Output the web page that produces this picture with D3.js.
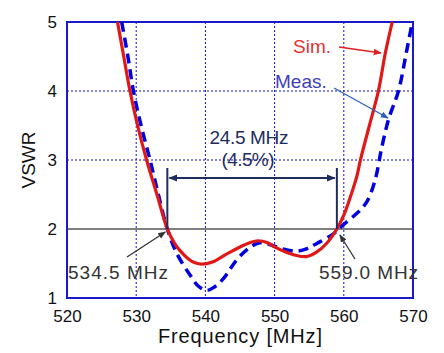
<!DOCTYPE html>
<html><head><meta charset="utf-8">
<script src="https://cdn.jsdelivr.net/npm/d3@7"></script>
<style>body{margin:0;background:#fff}svg{display:block}</style>
</head><body>
<svg id="c" width="444" height="353"></svg>
<script>
const xTicks = [520, 530, 540, 550, 560, 570];
const yTicks = [1, 2, 3, 4, 5];
const simFreq = [527.3,528.2,529.1,530.2,531.5,533.0,534.5,535.5,536.3,537.5,538.5,539.5,541,543.1,545,546.4,547.6,549,550,551.5,553,554.6,556,557.5,559,560,560.8,561.9,562.4,563.7,565,566,567];
const simVswr = [5.0,4.5,4.0,3.5,3.0,2.5,2.0,1.8,1.69,1.57,1.51,1.49,1.52,1.64,1.74,1.80,1.83,1.80,1.74,1.67,1.62,1.60,1.66,1.79,2.0,2.2,2.42,2.77,3.0,3.5,4.0,4.55,5.0];
const measFreq = [527.9,528.8,529.6,530.7,532.0,533.2,534.5,535.9,537.8,539,540.2,541.3,542.6,544.5,546.4,547.8,549.2,550.8,553.2,554.8,556.1,558.5,559.9,561.8,563.3,564.5,565.5,566.5,567.9,569.1,569.9];
const measVswr = [5.0,4.5,4.0,3.5,3.0,2.5,2.0,1.64,1.33,1.17,1.11,1.16,1.28,1.55,1.73,1.80,1.78,1.72,1.68,1.72,1.79,1.93,2.06,2.22,2.39,2.7,3.19,3.6,4.0,4.59,5.0];
const bandEdges = [534.5, 559.0];
const bandLabels = ["534.5 MHz", "559.0 MHz"];
const bwText = ["24.5 MHz", "(4.5%)"];

const svg = d3.select("#c");
const L = 67, R = 413, T = 22, B = 298;
const x = d3.scaleLinear().domain([520, 570]).range([L, R]);
const y = d3.scaleLinear().domain([1, 5]).range([B, T]);
const font = "'Liberation Sans', Arial, sans-serif";

const defs = svg.append("defs");
defs.append("clipPath").attr("id","clip").append("rect").attr("x",L).attr("y",T-2).attr("width",R-L).attr("height",B-T+2);
function marker(id, color, size){
  defs.append("marker").attr("id",id).attr("viewBox","0 0 10 10").attr("refX",9).attr("refY",5)
    .attr("markerWidth",size).attr("markerHeight",size).attr("orient","auto-start-reverse")
    .attr("markerUnits","userSpaceOnUse")
    .append("path").attr("d","M0,1 L10,5 L0,9 Z").attr("fill",color);
}
marker("mNavy","#1f2d5c",9);
marker("mGray","#333",8);
marker("mRed","#e02020",8);
marker("mBlue","#3060c0",8);

// grid
const gridBlue = "#1010c8";
svg.append("g").selectAll("line").data(xTicks.slice(1,-1)).join("line")
  .attr("x1",d=>x(d)).attr("x2",d=>x(d)).attr("y1",T).attr("y2",B)
  .attr("stroke",gridBlue).attr("stroke-width",1).attr("stroke-dasharray","2,2");
svg.append("g").selectAll("line").data(yTicks.filter(d=>d>2 && d<5)).join("line")
  .attr("x1",L).attr("x2",R).attr("y1",d=>y(d)).attr("y2",d=>y(d))
  .attr("stroke",gridBlue).attr("stroke-width",1).attr("stroke-dasharray","2,2");
svg.append("line").attr("x1",L).attr("x2",R).attr("y1",y(2)).attr("y2",y(2))
  .attr("stroke","#555").attr("stroke-width",1.5);

// axes
const xa = svg.append("g").attr("transform",`translate(0,${B})`)
  .call(d3.axisBottom(x).tickValues(xTicks).tickFormat(d3.format("d")).tickSize(0).tickPadding(12));
xa.select(".domain").remove();
xa.selectAll("text").attr("font-family",font).attr("font-size",17).attr("fill","#111");
const ya = svg.append("g").attr("transform",`translate(${L},0)`)
  .call(d3.axisLeft(y).tickValues(yTicks).tickFormat(d3.format("d")).tickSize(0).tickPadding(10));
ya.select(".domain").remove();
ya.selectAll("text").attr("font-family",font).attr("font-size",17).attr("fill","#111");

// frame
svg.append("rect").attr("x",L).attr("y",T).attr("width",R-L).attr("height",B-T)
  .attr("fill","none").attr("stroke","#1a1ac8").attr("stroke-width",2);

// curves
const lineGen = d3.line().x(d=>x(d[0])).y(d=>y(d[1])).curve(d3.curveCatmullRom.alpha(0.5));
const g = svg.append("g").attr("clip-path","url(#clip)");
g.append("path").datum(d3.zip(measFreq, measVswr)).attr("d",lineGen)
  .attr("fill","none").attr("stroke","#0000e0").attr("stroke-width",3.5).attr("stroke-dasharray","10,6");
g.append("path").datum(d3.zip(simFreq, simVswr)).attr("d",lineGen)
  .attr("fill","none").attr("stroke","#e01818").attr("stroke-width",3.2);

// bandwidth annotation
const navy = "#1f2d5c";
svg.append("g").selectAll("line").data(bandEdges).join("line")
  .attr("x1",d=>x(d)).attr("x2",d=>x(d)).attr("y1",168).attr("y2",y(2))
  .attr("stroke",navy).attr("stroke-width",2);
svg.append("line").attr("x1",x(bandEdges[0])+2).attr("x2",x(bandEdges[1])-2).attr("y1",178).attr("y2",178)
  .attr("stroke",navy).attr("stroke-width",2)
  .attr("marker-start","url(#mNavy)").attr("marker-end","url(#mNavy)");
svg.append("text").attr("x",249).attr("y",144).attr("text-anchor","middle")
  .attr("font-family",font).attr("font-size",19).attr("textLength",79).attr("fill","#1f2d5c").text(bwText[0]);
svg.append("text").attr("x",248).attr("y",166).attr("text-anchor","middle")
  .attr("font-family",font).attr("font-size",19).attr("textLength",53).attr("fill","#1f2d5c").text(bwText[1]);

// band edge labels
svg.append("text").attr("x",68).attr("y",279).attr("font-family",font).attr("font-size",19)
  .attr("fill","#333").attr("textLength",100).text(bandLabels[0]);
svg.append("text").attr("x",319).attr("y",279).attr("font-family",font).attr("font-size",19)
  .attr("fill","#333").attr("textLength",99).text(bandLabels[1]);
svg.append("line").attr("x1",127).attr("y1",257).attr("x2",x(bandEdges[0])-2).attr("y2",y(2)+3)
  .attr("stroke","#333").attr("stroke-width",1.3).attr("marker-end","url(#mGray)");
svg.append("line").attr("x1",355).attr("y1",259).attr("x2",x(bandEdges[1])+3).attr("y2",y(2)+6)
  .attr("stroke","#333").attr("stroke-width",1.3).attr("marker-end","url(#mGray)");

// legend labels
svg.append("text").attr("x",293).attr("y",53).attr("font-family",font).attr("font-size",19)
  .attr("fill","#e83030").text("Sim.");
svg.append("line").attr("x1",339).attr("y1",47).attr("x2",381).attr("y2",53)
  .attr("stroke","#e02020").attr("stroke-width",1.3).attr("marker-end","url(#mRed)");
svg.append("text").attr("x",275).attr("y",88).attr("font-family",font).attr("font-size",19)
  .attr("fill","#4040b8").text("Meas.");
svg.append("line").attr("x1",334).attr("y1",88).attr("x2",388).attr("y2",118)
  .attr("stroke","#3060c0").attr("stroke-width",1.3).attr("marker-end","url(#mBlue)");

// axis titles
svg.append("text").attr("x",240).attr("y",343).attr("text-anchor","middle")
  .attr("font-family",font).attr("font-size",20).attr("fill","#111").attr("textLength",164).text("Frequency [MHz]");
svg.append("text").attr("transform","translate(35,160) rotate(-90)").attr("text-anchor","middle")
  .attr("font-family",font).attr("font-size",19).attr("fill","#111").text("VSWR");
</script>
</body></html>
